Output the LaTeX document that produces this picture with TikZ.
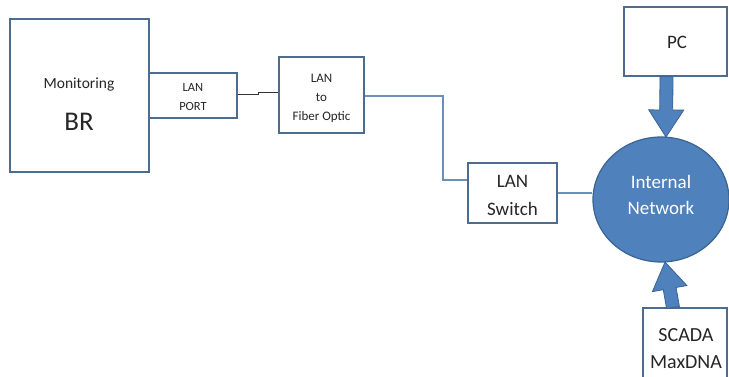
\documentclass[tikz,border=0pt]{standalone}
\usepackage{fontspec}
\setmainfont{Carlito}
\usetikzlibrary{shapes.geometric,calc}
\definecolor{boxc}{HTML}{4D6D90}
\definecolor{netfill}{HTML}{4F81BD}
\definecolor{netdraw}{HTML}{3A6491}
\definecolor{thinblue}{HTML}{6E8FB5}
\tikzset{
  blk/.style={draw=boxc, line width=1.5pt, fill=white, inner sep=0pt},
  lbl/.style={inner sep=0pt, text=black!85},
  fs/.style={font=\fontsize{#1}{#1}\selectfont},
}
\newcommand{\fatarrow}[2]{%
  \coordinate (H) at ($(#2)!27pt!(#1)$);
  \filldraw[fill=netfill, draw=netdraw, line width=0.8pt, line join=miter]
    ($(#1)!6.5pt!90:(#2)$) -- ($(H)!6.5pt!-90:(#1)$) -- ($(H)!17.5pt!-90:(#1)$) -- (#2)
    -- ($(H)!17.5pt!90:(#1)$) -- ($(H)!6.5pt!90:(#1)$) -- ($(#1)!6.5pt!-90:(#2)$) -- cycle;
}
\begin{document}
\begin{tikzpicture}[x=1pt,y=-1pt]
\useasboundingbox (0,0) rectangle (729,377);
% boxes
\node[blk, minimum width=139pt, minimum height=153pt] (mon) at (79.5,95.5) {};
\node[lbl, fs=15.5] (monT) at (79,85) {Monitoring};
\node[lbl, fs=27] (brT) at (79,122) {BR};

\node[blk, minimum width=88pt, minimum height=45pt] (port) at (193,95.5) {};
\node[lbl, fs=12.5] (portA) at (193,87) {LAN};
\node[lbl, fs=12.5] (portB) at (193,106) {PORT};

\node[blk, minimum width=85pt, minimum height=76pt] (fiber) at (321.5,95) {};
\node[lbl, fs=13] (fA) at (321.5,78) {LAN};
\node[lbl, fs=13] (fB) at (321.5,97) {to};
\node[lbl, fs=13] (fC) at (321.5,117) {Fiber Optic};

\node[blk, minimum width=89pt, minimum height=60pt] (sw) at (512.5,193) {};
\node[lbl, fs=19] (swA) at (512.5,181) {LAN};
\node[lbl, fs=19] (swB) at (512.5,209) {Switch};

\node[draw=netdraw, line width=1.2pt, fill=netfill, ellipse, inner sep=0pt,
      minimum width=136pt, minimum height=125pt] (net) at (661,199.5) {};
\node[lbl, fs=19, text=white] (netA) at (661,182) {Internal};
\node[lbl, fs=19, text=white] (netB) at (661,208) {Network};

\node[blk, minimum width=103pt, minimum height=69pt] (pc) at (675.5,41.5) {};
\node[lbl, fs=19] (pcT) at (677,42) {PC};

\node[blk, minimum width=84pt, minimum height=72pt] (sc) at (685,344) {};
\node[lbl, fs=20] (scA) at (686,335) {SCADA};
\node[lbl, fs=20] (scB) at (686,362) {MaxDNA};

% connectors
\coordinate (j1) at (258,95);
\coordinate (j2) at (258,93);
\draw[black!80, line width=1pt] (port.east |- j1) -- (j1) -- (j2) -- (fiber.west |- j2);

\coordinate (k1) at (443,96);
\coordinate (k2) at (443,180);
\draw[thinblue, line width=1.2pt] (fiber.east |- k1) -- (k1) -- (k2) -- (sw.west |- k2);

\draw[thinblue, line width=1.2pt] (sw.east |- 0,193) -- (net.west |- 0,193);

% fat arrows
\coordinate (pa) at (666.5,76.5);
\coordinate (pb) at (666,137);
\fatarrow{pa}{pb}
\coordinate (sa) at (673,307.5);
\coordinate (sb) at (665,262);
\fatarrow{sa}{sb}
\end{tikzpicture}
\end{document}
